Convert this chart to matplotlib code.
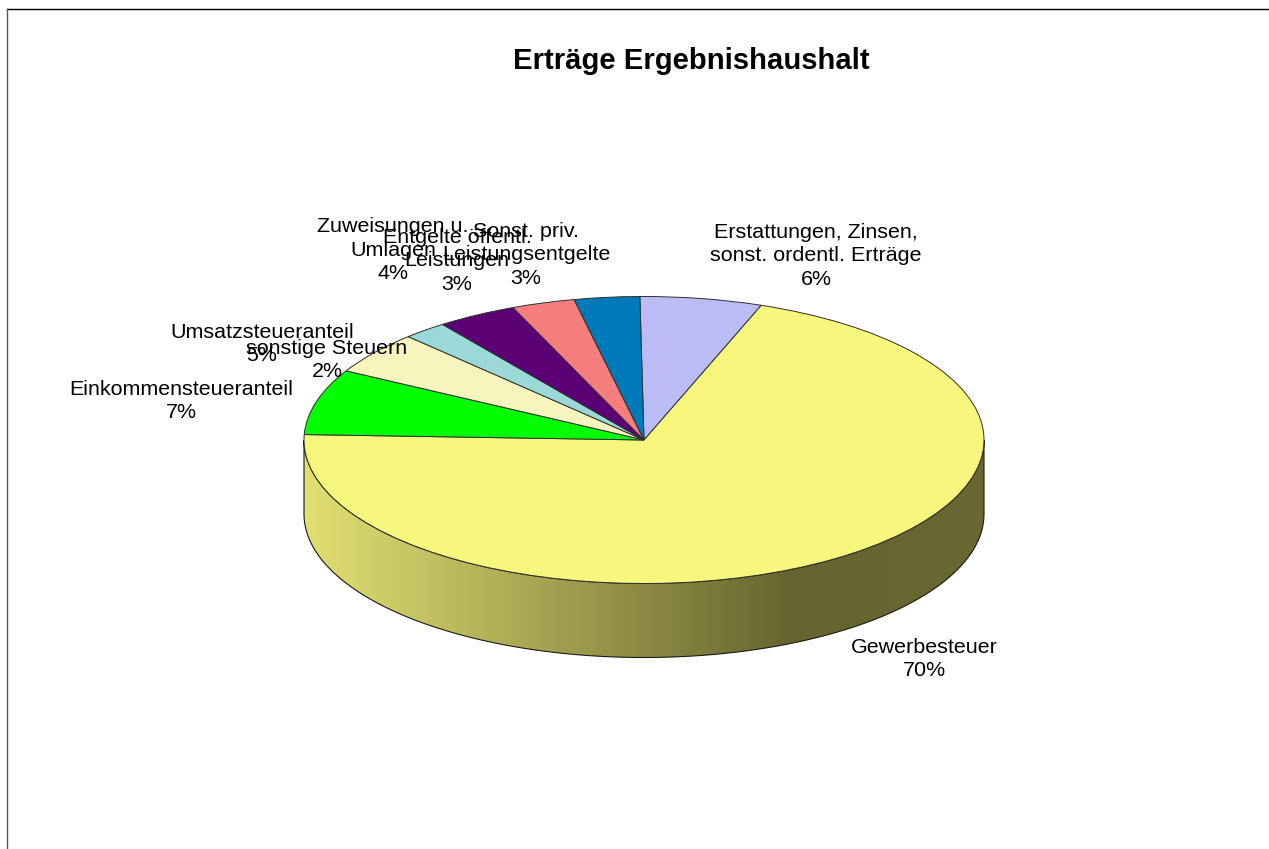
"""Recreate the 3D-style pie chart of Ertraege Ergebnishaushalt."""

import matplotlib

matplotlib.use("Agg")
import matplotlib.pyplot as plt
import numpy as np
from matplotlib.colors import LinearSegmentedColormap
from matplotlib.lines import Line2D
from matplotlib.patches import PathPatch
from matplotlib.path import Path

plt.rcParams["font.family"] = ["Liberation Sans", "DejaVu Sans"]

TITLE = "Erträge Ergebnishaushalt"
CATEGORIES = [
    "Erstattungen, Zinsen,\nsonst. ordentl. Erträge",
    "Gewerbesteuer",
    "Einkommensteueranteil",
    "Umsatzsteueranteil",
    "sonstige Steuern",
    "Zuweisungen u.\nUmlagen",
    "Entgelte öffentl.\nLeistungen",
    "Sonst. priv.\nLeistungsentgelte",
]
SHARES = [5.8, 70.0, 7.4, 4.8, 2.1, 3.8, 3.0, 3.1]
PERCENT_LABELS = ["6%", "70%", "7%", "5%", "2%", "4%", "3%", "3%"]
COLORS = [
    "#BBBBF5",
    "#F7F77D",
    "#00FF00",
    "#F7F5BD",
    "#9BD9D9",
    "#5C0075",
    "#F87E7E",
    "#007ABA",
]

W, H = 1269, 849
CX, CY = 644, 440
RX, RY = 340, 143.5
DEPTH = 74 / RY

# label block centres in pixels, same order as CATEGORIES
LABEL_POS = [
    (816, 256),
    (924, 659),
    (181, 401),
    (262, 344),
    (327, 360),
    (393, 250),
    (457, 261),
    (526, 255),
]


def side_path() -> Path:
    """Outline of the visible rim below the top ellipse."""
    t = np.radians(np.linspace(180, 360, 181))
    top = np.column_stack([np.cos(t), np.sin(t)])
    low = np.column_stack([np.cos(t[::-1]), np.sin(t[::-1]) - DEPTH])
    verts = np.vstack([top, low, top[:1]])
    codes = [Path.MOVETO] + [Path.LINETO] * (len(verts) - 2) + [Path.CLOSEPOLY]
    return Path(verts, codes)


def main() -> None:
    fig = plt.figure(figsize=(W / 100, H / 100), dpi=100, facecolor="white")
    ax = fig.add_axes([0, 0, 1, 1])

    # rim with the horizontal light-to-dark shading
    cmap = LinearSegmentedColormap.from_list(
        "rim", [(0, "#E2E072"), (0.72, "#66642F"), (1, "#686833")]
    )
    grad = np.linspace(0, 1, 680).reshape(1, -1)
    img = ax.imshow(
        grad, cmap=cmap, extent=(-1, 1, -1 - DEPTH, 0), aspect="auto", zorder=1
    )
    outline = PathPatch(side_path(), fc="none", ec="#1A1A10", lw=0.8, zorder=2)
    ax.add_patch(outline)
    img.set_clip_path(outline)

    ax.pie(
        SHARES,
        colors=COLORS,
        startangle=90.7,
        counterclock=False,
        radius=1,
        wedgeprops={"edgecolor": "#303030", "linewidth": 0.7, "zorder": 3},
    )

    # pie() forces equal aspect, undo it so the circle becomes the ellipse
    ax.set_aspect("auto")
    ax.set_xlim(-CX / RX, (W - CX) / RX)
    ax.set_ylim((CY - H) / RY, CY / RY)
    ax.axis("off")

    fig.text(691 / W, 1 - 61 / H, TITLE, fontsize=21.1, fontweight="bold",
             ha="center", va="center")

    for name, pct, (x, y) in zip(CATEGORIES, PERCENT_LABELS, LABEL_POS):
        fig.text(x / W, 1 - y / H, f"{name}\n{pct}", fontsize=15.45, ha="center",
                 va="center", linespacing=1.32, color="black")

    # only the top and left chart border fall inside the picture
    fig.add_artist(Line2D([7 / W, 1], [1 - 9 / H, 1 - 9 / H], color="black", lw=1))
    fig.add_artist(Line2D([7 / W, 7 / W], [0, 1 - 9 / H], color="#555555", lw=1))

    fig.savefig("out.png", dpi=100)


if __name__ == "__main__":
    main()
